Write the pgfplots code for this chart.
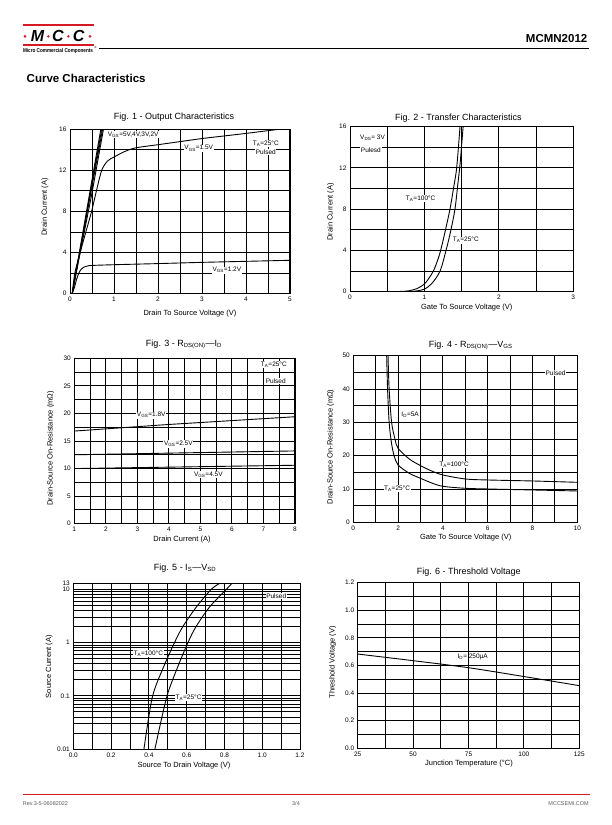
\documentclass[border=0pt]{standalone}
\usepackage{fontspec}
\setmainfont{Liberation Sans}
\usepackage{pgfplots}
\pgfplotsset{compat=1.18}
\definecolor{mccred}{RGB}{215,25,35}
\definecolor{ftgray}{RGB}{90,90,90}
\pgfplotsset{
  ds/.style={scale only axis, anchor=south west, grid=both,
    major grid style={black,line width=0.9pt},
    minor grid style={black,line width=0.9pt},
    axis line style={black,line width=1pt},
    tick style={draw=none},
    ticklabel style={font=\fontsize{6.5}{7}\selectfont},
    /pgf/number format/assume math mode=true},
}
\tikzset{
  crv/.style={black, line width=0.9pt, mark=none},
  lbl/.style={font=\fontsize{6.5}{7}\selectfont, fill=white, inner sep=0.7pt},
  ttl/.style={font=\fontsize{9}{10}\selectfont, inner sep=0},
  axl/.style={font=\fontsize{7.5}{8}\selectfont, inner sep=0},
}
\begin{document}
\begin{tikzpicture}[x=1pt,y=1pt]
\path (0,0) rectangle (612,825);
% ---------- header ----------
\fill[mccred] (22.7,799) rectangle (94,801.2);
\fill[mccred] (22.7,779) rectangle (94,781.2);
\foreach \xx in {25,48.3,68.3,90} {\fill[mccred] (\xx,788.6) circle (1.4);}
\node[font=\fontsize{16}{16}\selectfont\bfseries\itshape, inner sep=0] at (37.5,789) {M};
\node[font=\fontsize{16}{16}\selectfont\bfseries\itshape, inner sep=0] at (57.8,789) {C};
\node[font=\fontsize{16}{16}\selectfont\bfseries\itshape, inner sep=0] at (78.6,789) {C};
\node[font=\fontsize{5.6}{6}\selectfont\bfseries, inner sep=0, transform shape, xscale=0.83] at (58,774.3) {Micro Commercial Components};
\node[font=\fontsize{3}{3}\selectfont, inner sep=0] at (95.5,777.5) {®};
\draw[line width=0.9pt] (99,776.5) -- (589,776.5);
\node[anchor=east, font=\fontsize{11.5}{12}\selectfont\bfseries, inner sep=0] at (587.5,786.7) {MCMN2012};
\node[anchor=west, font=\fontsize{11.5}{12}\selectfont\bfseries, inner sep=0] at (26.5,746.7) {Curve Characteristics};
% ---------- footer ----------
\draw[mccred, line width=0.9pt] (22.7,30.7) -- (590,30.7);
\node[anchor=west, font=\fontsize{5.5}{6}\selectfont, text=ftgray, inner sep=0] at (22.7,21.7) {Rev.3-5-06082022};
\node[font=\fontsize{5.5}{6}\selectfont, text=ftgray, inner sep=0] at (296,21.7) {3/4};
\node[anchor=east, font=\fontsize{5.5}{6}\selectfont, text=ftgray, inner sep=0] at (589,21.7) {MCCSEMI.COM};

% ---------- Fig 1 ----------
\node[ttl] at (174,707.5) {Fig. 1 - Output Characteristics};
\node[axl] at (190,511.7) {Drain To Source Voltage (V)};
\node[axl, rotate=90] at (45,618) {Drain Current (A)};
\begin{axis}[ds, at={(70pt,531.3pt)}, width=220pt, height=164.4pt,
  xmin=0, xmax=5, ymin=0, ymax=16,
  xtick={0,1,2,3,4,5}, minor xtick={0.5,1.5,2.5,3.5,4.5},
  ytick={0,4,8,12,16}, minor ytick={2,6,10,14}]
\addplot[crv] coordinates {(0.05,0) (0.70,16)};
\addplot[crv] coordinates {(0.05,0) (0.72,16)};
\addplot[crv] coordinates {(0.05,0) (0.74,16)};
\addplot[crv] coordinates {(0.05,0) (0.25,4.4) (0.5,9.8) (0.76,16)};
\addplot[crv,smooth] coordinates {(0.05,0) (0.11,2) (0.23,4) (0.36,6) (0.49,8) (0.60,10) (0.72,12) (0.85,12.9) (1.0,13.3) (1.25,13.85) (1.5,14.2) (2,14.5) (2.5,14.8) (3,15.1) (3.5,15.35) (4,15.6) (4.75,16)};
\addplot[crv,smooth] coordinates {(0.05,0) (0.1,0.6) (0.15,1.4) (0.2,2.0) (0.25,2.35) (0.3,2.55) (0.4,2.7) (0.5,2.75) (1,2.82) (2,2.93) (3,3.05) (4,3.15) (5,3.25)};
\node[lbl, anchor=west] at (axis cs:0.84,15.5) {V\textsubscript{GS}=5V,4V,3V,2V};
\node[lbl, anchor=west] at (axis cs:2.58,14.15) {V\textsubscript{GS}=1.5V};
\node[lbl, anchor=west] at (axis cs:3.22,2.3) {V\textsubscript{GS}=1.2V};
\node[lbl] at (axis cs:4.45,14.6) {T\textsubscript{A}=25°C};
\node[lbl] at (axis cs:4.45,13.8) {Pulsed};
\end{axis}

% ---------- Fig 2 ----------
\node[ttl] at (458.3,707.3) {Fig. 2 - Transfer Characteristics};
\node[axl] at (466.7,517.3) {Gate To Source Voltage (V)};
\node[axl, rotate=90] at (330.7,613) {Drain Current (A)};
\begin{axis}[ds, at={(350pt,533.3pt)}, width=223.3pt, height=165pt,
  xmin=0, xmax=3, ymin=0, ymax=16,
  xtick={0,1,2,3}, minor xtick={0.5,1.5,2.5},
  ytick={0,4,8,12,16}, minor ytick={2,6,10,14}]
\addplot[crv,smooth] coordinates {(0.5,0) (0.7,0.03) (0.8,0.1) (0.9,0.3) (1.0,0.75) (1.06,1.3) (1.12,2) (1.17,2.9) (1.218,4) (1.28,5.9) (1.343,8) (1.39,10) (1.433,12) (1.478,16)};
\addplot[crv,smooth] coordinates {(0.5,0) (0.8,0.02) (0.9,0.08) (1.0,0.25) (1.1,0.8) (1.21,2) (1.29,4) (1.35,5.8) (1.41,8) (1.45,10.5) (1.48,12.5) (1.52,16)};
\node[lbl, anchor=west] at (axis cs:0.125,14.9) {V\textsubscript{DS}= 3V};
\node[lbl, anchor=west] at (axis cs:0.135,13.7) {Pulesd};
\node[lbl, anchor=west] at (axis cs:0.74,9.05) {T\textsubscript{A}=100°C};
\node[lbl, anchor=west] at (axis cs:1.37,5.0) {T\textsubscript{A}=25°C};
\end{axis}

% ---------- Fig 3 ----------
\node[ttl] at (184,480.7) {Fig. 3 - R\textsubscript{DS(ON)}—I\textsubscript{D}};
\node[axl] at (182,285) {Drain Current (A)};
\node[axl, rotate=90] at (50.7,376.7) {Drain-Source On-Resistance (mΩ)};
\begin{axis}[ds, at={(74.3pt,301.3pt)}, width=220.7pt, height=165.4pt,
  xmin=1, xmax=8, ymin=0, ymax=30,
  xtick={1,2,3,4,5,6,7,8}, minor xtick={1.5,2.5,3.5,4.5,5.5,6.5,7.5},
  ytick={0,5,10,15,20,25,30}, minor ytick={2.5,7.5,12.5,17.5,22.5,27.5}]
\addplot[crv] coordinates {(1,16.8) (4,18.0) (8,19.4)};
\addplot[crv] coordinates {(1,12.5) (8,13.2)};
\addplot[crv] coordinates {(1,10.0) (8,10.6)};
\node[lbl, anchor=west] at (axis cs:2.96,19.7) {V\textsubscript{GS}=1.8V};
\node[lbl, anchor=west] at (axis cs:3.82,14.45) {V\textsubscript{GS}=2.5V};
\node[lbl, anchor=west] at (axis cs:4.77,8.95) {V\textsubscript{GS}=4.5V};
\node[lbl] at (axis cs:7.33,28.8) {T\textsubscript{A}=25°C};
\node[lbl] at (axis cs:7.39,25.9) {Pulsed};
\end{axis}

% ---------- Fig 4 ----------
\node[ttl] at (470.7,480) {Fig. 4 - R\textsubscript{DS(ON)}—V\textsubscript{GS}};
\node[axl] at (465.7,287.3) {Gate To Source Voltage (V)};
\node[axl, rotate=90] at (330.7,378) {Drain-Source On-Resistance (mΩ)};
\begin{axis}[ds, at={(353.3pt,302.7pt)}, width=224pt, height=166.6pt,
  xmin=0, xmax=10, ymin=0, ymax=50,
  xtick={0,2,4,6,8,10}, minor xtick={1,3,5,7,9},
  ytick={0,10,20,30,40,50}, minor ytick={5,15,25,35,45}]
\addplot[crv,smooth] coordinates {(1.49,50) (1.53,40) (1.6,30) (1.7,24) (1.82,20) (2,17.2) (2.5,14.7) (3,13.2) (3.5,11.8) (4,10.8) (5,10.2) (6,10.0) (8,9.7) (10,9.4)};
\addplot[crv,smooth] coordinates {(1.55,50) (1.6,40) (1.71,30) (1.86,25) (2,22.2) (2.5,19.0) (3,17) (3.5,15.4) (4,14.2) (5,13.0) (6,12.7) (8,12.4) (10,12.0)};
\node[lbl, anchor=west] at (axis cs:2.11,32.2) {I\textsubscript{D}=5A};
\node[lbl, anchor=west] at (axis cs:3.8,17.4) {T\textsubscript{A}=100°C};
\node[lbl, anchor=west] at (axis cs:1.34,10.0) {T\textsubscript{A}=25°C};
\node[lbl] at (axis cs:9.03,44.7) {Pulsed};
\end{axis}

% ---------- Fig 5 ----------
\node[ttl] at (185,256.7) {Fig. 5 - I\textsubscript{S}—V\textsubscript{SD}};
\node[axl] at (184,59) {Source To Drain Voltage (V)};
\node[axl, rotate=90] at (49.3,158.3) {Source Current (A)};
\begin{axis}[ds, at={(73.3pt,76pt)}, width=226.7pt, height=165.7pt,
  ymode=log, xmin=0, xmax=1.2, ymin=0.01, ymax=13,
  xtick={0,0.2,0.4,0.6,0.8,1.0,1.2}, minor xtick={0.1,0.3,0.5,0.7,0.9,1.1},
  xticklabel style={/pgf/number format/.cd, fixed, fixed zerofill, precision=1},
  ytick={0.01,0.1,1,10}, yticklabels={0.01,0.1,1,10},
  extra y ticks={13}, extra y tick labels={13},
  minor ytick={0.02,0.03,0.04,0.05,0.06,0.07,0.08,0.09,0.2,0.3,0.4,0.5,0.6,0.7,0.8,0.9,2,3,4,5,6,7,8,9}]
\addplot[crv,smooth] coordinates {(0.374,0.01) (0.418,0.093) (0.475,0.33) (0.538,1.04) (0.58,2) (0.65,4.6) (0.73,10) (0.776,13)};
\addplot[crv,smooth] coordinates {(0.432,0.01) (0.494,0.093) (0.55,0.33) (0.609,1.04) (0.65,2) (0.72,4.6) (0.81,10) (0.84,13)};
\node[lbl] at (axis cs:1.074,7.4) {Pulsed};
\node[lbl] at (axis cs:0.397,0.61) {T\textsubscript{A}=100°C};
\node[lbl] at (axis cs:0.61,0.093) {T\textsubscript{A}=25°C};
\end{axis}

% ---------- Fig 6 ----------
\node[ttl] at (468.7,253.3) {Fig. 6 - Threshold Voltage};
\node[axl] at (469,61) {Junction Temperature  (°C)};
\node[axl, rotate=90] at (332.7,162.7) {Threshold Voltage (V)};
\begin{axis}[ds, at={(357.7pt,76.7pt)}, width=221.6pt, height=165.6pt,
  xmin=25, xmax=125, ymin=0, ymax=1.2,
  xtick={25,50,75,100,125}, minor xtick={37.5,62.5,87.5,112.5},
  ytick={0,0.2,0.4,0.6,0.8,1.0,1.2}, minor ytick={0.1,0.3,0.5,0.7,0.9,1.1},
  yticklabel style={/pgf/number format/.cd, fixed, fixed zerofill, precision=1}]
\addplot[crv,smooth] coordinates {(25,0.683) (50,0.635) (75,0.584) (100,0.52) (125,0.454)};
\node[font=\fontsize{6.5}{7}\selectfont, inner sep=0.7pt, anchor=west] at (axis cs:69.7,0.664) {I\textsubscript{D}= 250µA};
\end{axis}
\end{tikzpicture}
\end{document}
